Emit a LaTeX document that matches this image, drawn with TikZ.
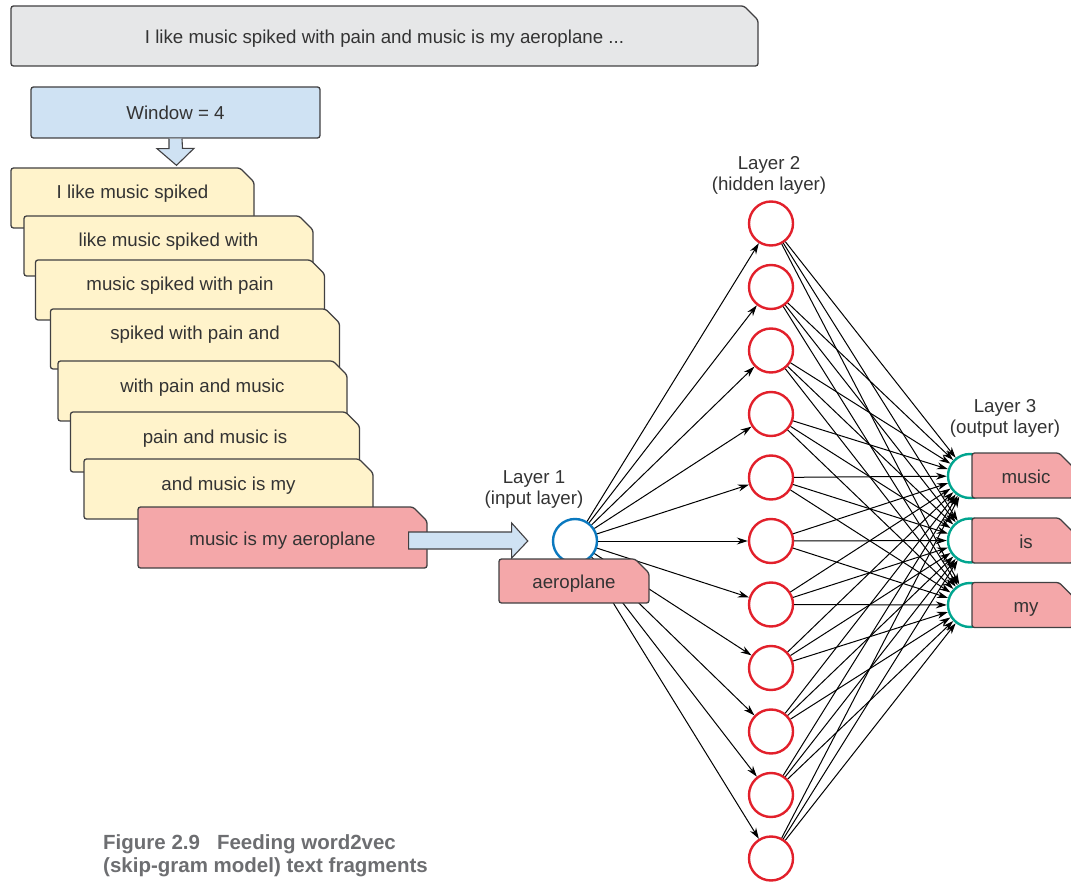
\documentclass[tikz,border=0pt]{standalone}
\usepackage{fontspec}
\setmainfont{Liberation Sans}
\usetikzlibrary{shapes.misc,arrows.meta,calc}

\definecolor{ink}{HTML}{333333}
\definecolor{edge}{HTML}{414042}
\definecolor{greyfill}{HTML}{E6E7E8}
\definecolor{bluefill}{HTML}{CFE2F3}
\definecolor{yellowfill}{HTML}{FFF3CB}
\definecolor{pinkfill}{HTML}{F4A7A9}
\definecolor{hiddenred}{HTML}{E2202B}
\definecolor{inputblue}{HTML}{0B79BF}
\definecolor{outputteal}{HTML}{00A58F}
\definecolor{captiongrey}{HTML}{6D6E71}

\begin{document}
\begin{tikzpicture}[x=1pt,y=-1pt,
  font=\fontsize{18.7}{21}\selectfont,
  box/.style={draw=edge, line width=1.3pt, rounded corners=2.5pt, inner sep=0pt,
    text=ink, text height=16pt, text depth=1pt},
  tabbox/.style={box, chamfered rectangle, chamfered rectangle corners=north east,
    chamfered rectangle xsep=7pt, chamfered rectangle ysep=7pt},
  fragment/.style={tabbox, fill=yellowfill, minimum width=289pt, minimum height=60pt,
    text height=8pt, text depth=6pt},
  wordbox/.style={tabbox, fill=pinkfill, minimum height=45pt},
  blockarrow/.style={draw=edge, line width=1.1pt, fill=bluefill, line join=miter},
  neuron/.style={circle, line width=2.4pt, fill=white, minimum size=44pt, inner sep=0pt},
  conn/.style={line width=1pt, black, -{Stealth[length=11pt,width=7pt]}},
  layerlabel/.style={text=ink, align=center},
  caption/.style={text=captiongrey, font=\fontsize{20.5}{24}\selectfont\bfseries, inner sep=0pt}
]
\useasboundingbox (0,0) rectangle (1071,882);

% sentence and window size
\node[tabbox, fill=greyfill, minimum width=747pt, minimum height=60pt] (sentence) at (384.5,36)
  {I like music spiked with pain and music is my aeroplane ...};
\node[box, fill=bluefill, minimum width=289pt, minimum height=51pt] (window) at (175.5,112.5) {Window = 4};

% sliding windows over the sentence
\node[fragment, minimum width=243pt] (f1) at (132.5,198) {I like music spiked};
\node[fragment] (f2) at (168.5,246) {like music spiked with};
\node[fragment] (f3) at (180,290) {music spiked with pain};
\node[fragment] (f4) at (195,339) {spiked with pain and};
\node[fragment] (f5) at (202.5,391) {with pain and music};
\node[fragment] (f6) at (215,442) {pain and music is};
\node[fragment] (f7) at (228.5,489) {and music is my};
\node[tabbox, fill=pinkfill, minimum width=289pt, minimum height=61pt] (f8) at (282.5,537.5) {music is my aeroplane};

% block arrow: window -> fragments
\draw[blockarrow] ($(window.south)+(-6.5,0)$) -- ++(0,10) -- ++(-12,0)
  -- ($(f1.north)+(44,-2)$) -- ++(17.5,-17) -- ++(-11.5,0) -- ($(window.south)+(6.5,0)$);

% network nodes
\foreach \k in {0,...,10}{
  \pgfmathsetmacro\yy{541+63.5*(\k-5)}
  \node[neuron, draw=hiddenred] (h\k) at (771,\yy) {};
}
\node[neuron, draw=inputblue] (in) at (575,541) {};
\node[neuron, draw=outputteal] (o1) at (970,476) {};
\node[neuron, draw=outputteal] (o2) at (970,540.5) {};
\node[neuron, draw=outputteal] (o3) at (970,605) {};

% block arrow: last fragment -> input neuron
\coordinate (ashaft) at ($(f8.east)+(-19,-5.5)$);
\draw[blockarrow] (ashaft) -- ($(ashaft)+(103,0)$) -- ($(ashaft)+(103,-9)$)
  -- ($(in.west)+(-24,0)$) -- ($(ashaft)+(103,26)$) -- ($(ashaft)+(103,17)$)
  -- ($(ashaft)+(0,17)$) -- cycle;

% connections
\foreach \k in {0,...,10}{
  \draw[conn] (in) -- (h\k);
}
\foreach \k in {0,...,10}{
  \foreach \j in {1,2,3}{
    \draw[conn] (h\k) -- (o\j);
  }
}

% word labels
\node[wordbox, minimum width=150pt, minimum height=44pt] (inword) at (574,581) {aeroplane};
\node[wordbox, minimum width=101pt] (w1) at (1022.5,475.5) {\hspace*{7pt}music};
\node[wordbox, minimum width=101pt] (w2) at (1022.5,540.5) {\hspace*{7pt}is};
\node[wordbox, minimum width=101pt] (w3) at (1022.5,605) {\hspace*{7pt}my};

% layer labels
\node[layerlabel] (l1) at (534,489.5) {Layer 1\\(input layer)};
\node[layerlabel] (l2) at (769,175) {Layer 2\\(hidden layer)};
\node[layerlabel] (l3) at (1005,418.5) {Layer 3\\(output layer)};

% caption
\node[caption, anchor=base west] (cap1) at (103,849) {Figure 2.9\hspace{17pt}Feeding word2vec};
\node[caption, anchor=base west] (cap2) at (103,872) {(skip-gram model) text fragments};
\end{tikzpicture}
\end{document}
